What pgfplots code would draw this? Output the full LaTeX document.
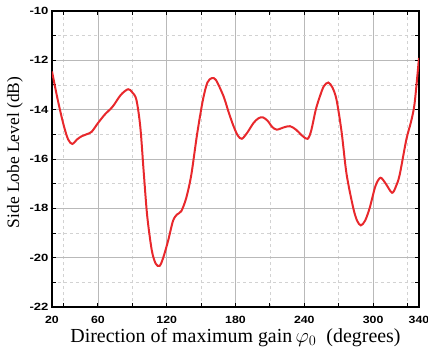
\documentclass[border=0pt]{standalone}
\usepackage{pgfplots}
\pgfplotsset{compat=1.18}
\usepackage{fontspec}
\setmainfont{Liberation Serif}
\newfontfamily\tickfont{Liberation Sans}
\definecolor{curvered}{HTML}{E8282C}
\begin{document}
\begin{tikzpicture}
\begin{axis}[
  scale only axis,
  width=367bp, height=296bp,
  xmin=20, xmax=340, ymin=-22, ymax=-10,
  xtick={20,60,120,180,240,300,340},
  minor xtick={30,90,150,210,270,330},
  ytick={-22,-20,...,-10},
  minor ytick={-21,-19,...,-11},
  /pgf/number format/assume math mode=true,
  tick label style={font=\tickfont\bfseries\fontsize{10.5}{12}\selectfont},
  xticklabel={\scalebox{1.18}[1]{\pgfmathprintnumber{\tick}}},
  yticklabel={\scalebox{1.25}[1]{\pgfmathprintnumber{\tick}}},
  xticklabel style={yshift=-6bp},
  grid=both,
  major grid style={gray!55, line width=0.6pt},
  minor grid style={gray!35, dashed, line width=0.5pt},
  axis line style={line width=1.3pt},
  major tick length=4bp, minor tick length=4bp,
  tick style={black, line width=1pt},
  xlabel={Direction of maximum gain$\,\varphi_{0}$\ \ (degrees)},
  ylabel={Side Lobe Level (dB)},
  xlabel style={font=\fontsize{20}{22}\selectfont, at={([yshift=-35bp]axis description cs:0.5,0)}, anchor=base},
  ylabel style={font=\fontsize{17.5}{20}\selectfont, at={([xshift=-37bp]axis description cs:0,0.522)}, anchor=center},
]
\addplot[curvered, line width=2pt, smooth, tension=0.5] coordinates {
(20,-12.45) (25,-13.6) (30,-14.6) (34,-15.2) (37.7,-15.39) (42,-15.2) (45.8,-15.08) (50,-15.0) (54.5,-14.9)
(60,-14.55) (66,-14.2) (73,-13.87) (80,-13.4) (86.4,-13.17) (90,-13.3) (93.6,-13.6)
(97,-14.7) (100,-16.55) (103,-18.3) (107,-19.7) (110.5,-20.25) (113.9,-20.33) (117,-20.0)
(121.2,-19.32) (125.5,-18.51) (129,-18.25) (132.8,-18.11) (137.1,-17.57) (141.5,-16.63)
(146.5,-15.0) (151.6,-13.6) (155.5,-12.9) (159.4,-12.72) (163,-12.8) (169.6,-13.46) (174,-14.1)
(178.3,-14.67) (182,-15.05) (185.5,-15.18) (190,-14.95) (195.7,-14.54) (200,-14.35) (203.8,-14.31)
(208,-14.45) (212,-14.7) (216,-14.81) (222,-14.72) (227.6,-14.67) (233,-14.82) (238,-15.05)
(242.9,-15.18) (246,-14.85) (250,-14.0) (253.6,-13.46) (257,-13.05) (260.9,-12.9) (264.5,-13.1)
(268.1,-13.6) (272.5,-14.9) (276.8,-16.6) (282.6,-17.97) (286,-18.5) (289.3,-18.69) (293,-18.5)
(297.1,-17.97) (302,-17.1) (306.4,-16.76) (311,-17.0) (316.5,-17.37) (320,-17.1) (323.2,-16.63)
(329,-15.2) (333,-14.5) (336.2,-13.73) (340,-11.9)
};
\end{axis}
\pgfresetboundingbox
\path[use as bounding box] ([shift={(-52bp,-42bp)}]current axis.south west) rectangle ([shift={(9bp,11bp)}]current axis.north east);
\end{tikzpicture}
\end{document}
